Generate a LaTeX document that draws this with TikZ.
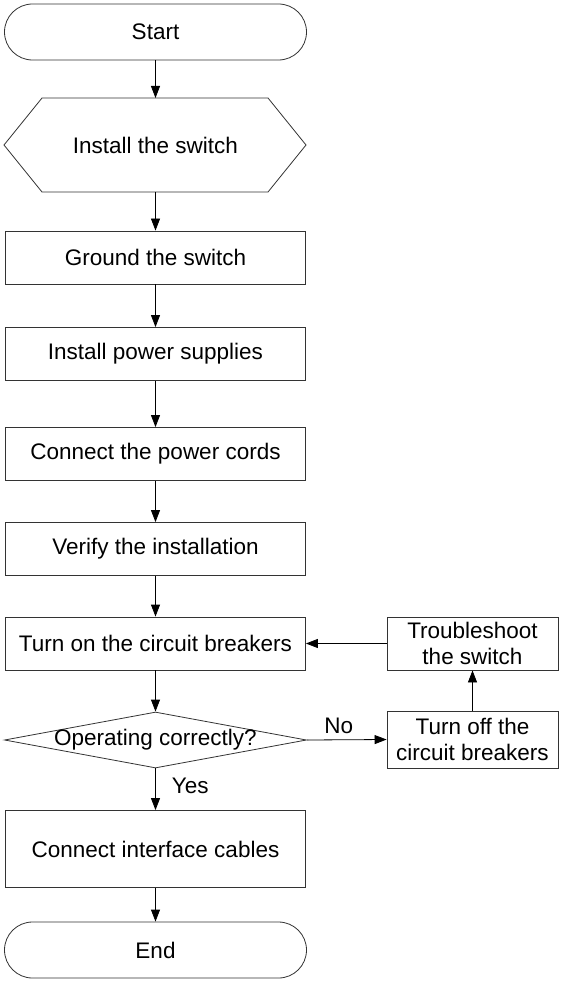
\documentclass[tikz,border=0pt]{standalone}
\usepackage{fontspec}
\setmainfont{Liberation Sans}
\usetikzlibrary{shapes.geometric,shapes.misc,arrows.meta}
\begin{document}
\begin{tikzpicture}[x=1pt,y=-1pt,
  base/.style={draw=black!80,line width=0.8pt,font=\fontsize{22.5}{26}\selectfont,align=center,inner sep=0pt},
  boxn/.style={base,rectangle,minimum width=300pt,minimum height=53pt},
  sidebox/.style={base,rectangle,minimum width=171pt,minimum height=53pt},
  term/.style={base,rounded rectangle,minimum width=302pt,minimum height=56pt},
  dec/.style={base,diamond,aspect=5.4,minimum width=302pt,minimum height=56pt},
  arr/.style={draw=black,line width=0.8pt,-{Triangle[length=12pt,width=9pt]}},
  lbl/.style={font=\fontsize{22.5}{26}\selectfont,inner sep=0pt}]
\useasboundingbox[fill=white] (0,0) rectangle (562,984);
\node[term] (start) at (155.5,32) {Start};
\draw[base] (42,98) -- (268,98) -- (306,145) -- (268,192) -- (42,192) -- (4,145) -- cycle;
\node[lbl] (hex) at (155.5,145) {Install the switch};
\coordinate (hextop) at (155.5,98);
\coordinate (hexbot) at (155.5,192);
\node[boxn] (ground) at (155.5,257.5) {Ground the switch};
\node[boxn] (power) at (155.5,354) {Install power supplies};
\node[boxn] (cords) at (155.5,454) {Connect the power cords};
\node[boxn] (verify) at (155.5,549) {Verify the installation};
\node[boxn] (turnon) at (155.5,643.5) {Turn on the circuit breakers};
\node[dec] (dec) at (155.5,740) {};
\node[lbl] at (155.5,740) {Operating correctly?};
\node[boxn,minimum height=77pt] (iface) at (155.5,849) {Connect interface cables};
\node[term] (end) at (155.5,950) {End};
\node[sidebox] (trouble) at (472.5,643.5) {Troubleshoot\\the switch};
\node[sidebox,minimum height=57pt] (turnoff) at (472.5,739.5) {Turn off the\\circuit breakers};
\draw[arr] (start) -- (hextop);
\draw[arr] (hexbot) -- (ground);
\draw[arr] (ground) -- (power);
\draw[arr] (power) -- (cords);
\draw[arr] (cords) -- (verify);
\draw[arr] (verify) -- (turnon);
\draw[arr] (turnon) -- (dec);
\draw[arr] (dec) -- node[lbl,pos=0.42,right=16pt] {Yes} (iface);
\draw[arr] (iface) -- (end);
\draw[arr] (dec.east) -- node[lbl,above=6pt,pos=0.4] {No} (turnoff.west);
\draw[arr] (turnoff) -- (trouble);
\draw[arr] (trouble.west) -- (turnon.east);
\end{tikzpicture}
\end{document}
